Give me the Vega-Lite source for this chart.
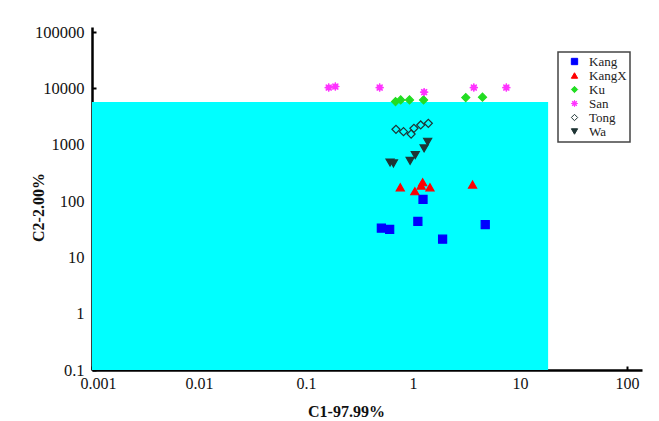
{
  "$schema": "https://vega.github.io/schema/vega-lite/v6.json",
  "width": 550,
  "height": 343,
  "autosize": {"type": "none"},
  "padding": {"left": 92, "top": 27, "right": 17, "bottom": 51},
  "background": "white",
  "config": {
    "view": {"stroke": null},
    "font": "Liberation Serif",
    "legend": {
      "orient": "none",
      "legendX": 466,
      "legendY": 25,
      "strokeColor": "#444444",
      "strokeWidth": 1.5,
      "padding": 3,
      "labelFont": "Liberation Serif",
      "labelFontSize": 13,
      "labelColor": "#222222",
      "labelOffset": 8,
      "symbolOffset": 7,
      "symbolSize": 40,
      "symbolStrokeWidth": 1,
      "rowPadding": 0,
      "titlePadding": 0
    }
  },
  "datasets": {
    "region": [{"x": 0.001, "x2": 18.3, "y": 0.1, "y2": 5720}],
    "points": [
      {"series": "Kang", "x": 0.506, "y": 33},
      {"series": "Kang", "x": 0.605, "y": 31.3},
      {"series": "Kang", "x": 1.11, "y": 43.5},
      {"series": "Kang", "x": 1.24, "y": 107},
      {"series": "Kang", "x": 1.89, "y": 21},
      {"series": "Kang", "x": 4.73, "y": 38},
      {"series": "KangX", "x": 0.76, "y": 175},
      {"series": "KangX", "x": 1.04, "y": 149},
      {"series": "KangX", "x": 1.19, "y": 188},
      {"series": "KangX", "x": 1.23, "y": 215},
      {"series": "KangX", "x": 1.44, "y": 175},
      {"series": "KangX", "x": 3.6, "y": 196},
      {"series": "Ku", "x": 0.686, "y": 5820},
      {"series": "Ku", "x": 0.767, "y": 6240},
      {"series": "Ku", "x": 0.927, "y": 6240},
      {"series": "Ku", "x": 1.255, "y": 6240},
      {"series": "Ku", "x": 3.11, "y": 6860},
      {"series": "Ku", "x": 4.46, "y": 6960},
      {"series": "San", "x": 0.163, "y": 10330},
      {"series": "San", "x": 0.188, "y": 10770},
      {"series": "San", "x": 0.488, "y": 10330},
      {"series": "San", "x": 1.27, "y": 8550},
      {"series": "San", "x": 3.7, "y": 10330},
      {"series": "San", "x": 7.45, "y": 10330},
      {"series": "Tong", "x": 0.693, "y": 1875},
      {"series": "Tong", "x": 0.815, "y": 1700},
      {"series": "Tong", "x": 0.96, "y": 1545},
      {"series": "Tong", "x": 1.02, "y": 1953},
      {"series": "Tong", "x": 1.18, "y": 2235},
      {"series": "Tong", "x": 1.39, "y": 2397},
      {"series": "Wa", "x": 0.61, "y": 483},
      {"series": "Wa", "x": 0.656, "y": 464},
      {"series": "Wa", "x": 0.94, "y": 516},
      {"series": "Wa", "x": 1.05, "y": 653},
      {"series": "Wa", "x": 1.27, "y": 859},
      {"series": "Wa", "x": 1.37, "y": 1127}
    ]
  },
  "encoding": {
    "x": {
      "field": "x",
      "type": "quantitative",
      "scale": {"type": "log", "domain": [0.001, 138], "nice": false},
      "axis": {
        "values": [0.001, 0.01, 0.1, 1, 10, 100],
        "format": "~g",
        "grid": false,
        "labelFlush": false,
        "labelOffset": {"condition": {"test": "datum.value < 0.005", "value": 6}, "value": 0},
        "domainColor": "black",
        "domainWidth": 2.5,
        "tickColor": "black",
        "tickWidth": 2,
        "tickSize": -4,
        "labelFontSize": 16,
        "labelColor": "#111111",
        "labelPadding": 9,
        "title": "C1-97.99%",
        "titleFontSize": 16,
        "titleFontWeight": "bold",
        "titleColor": "#111111",
        "titleAnchor": null,
        "titleAlign": "center",
        "titleBaseline": "alphabetic",
        "titleX": 254,
        "titleY": 46
      }
    },
    "y": {
      "field": "y",
      "type": "quantitative",
      "scale": {"type": "log", "domain": [0.1, 122700], "nice": false},
      "axis": {
        "values": [0.1, 1, 10, 100, 1000, 10000, 100000],
        "format": "~g",
        "grid": false,
        "domainColor": "black",
        "domainWidth": 2.5,
        "tickColor": "black",
        "tickWidth": 2,
        "tickSize": -4,
        "labelFontSize": 16.5,
        "labelColor": "#111111",
        "labelPadding": 12,
        "title": "C2-2.00%",
        "titleFontSize": 16,
        "titleFontWeight": "bold",
        "titleColor": "#111111",
        "titleAngle": -90,
        "titleAlign": "center",
        "titleBaseline": "middle",
        "titleX": -54,
        "titleY": 180
      }
    }
  },
  "layer": [
    {
      "data": {"name": "region"},
      "mark": {"type": "rect", "color": "#00ffff"},
      "encoding": {
        "x2": {"field": "x2"},
        "y2": {"field": "y2"}
      }
    },
    {
      "data": {"name": "points"},
      "mark": {"type": "point", "opacity": 1, "size": 65, "strokeWidth": 1.2},
      "encoding": {
        "fill": {
          "field": "series",
          "type": "nominal",
          "title": null,
          "scale": {
            "domain": ["Kang", "KangX", "Ku", "San", "Tong", "Wa"],
            "range": ["#0000ff", "#ff0000", "#22dd22", "#ff33ff", "transparent", "#1f3535"]
          }
        },
        "stroke": {
          "field": "series",
          "type": "nominal",
          "title": null,
          "scale": {
            "domain": ["Kang", "KangX", "Ku", "San", "Tong", "Wa"],
            "range": ["#0000ff", "#ff0000", "#22dd22", "#ff33ff", "#1f3535", "#1f3535"]
          }
        },
        "shape": {
          "field": "series",
          "type": "nominal",
          "title": null,
          "scale": {
            "domain": ["Kang", "KangX", "Ku", "San", "Tong", "Wa"],
            "range": ["square", "triangle-up", "diamond", "M0,-1L0.15,-0.37L0.71,-0.71L0.37,-0.15L1,0L0.37,0.15L0.71,0.71L0.15,0.37L0,1L-0.15,0.37L-0.71,0.71L-0.37,0.15L-1,0L-0.37,-0.15L-0.71,-0.71L-0.15,-0.37Z", "diamond", "triangle-down"]
          }
        }
      }
    }
  ]
}
